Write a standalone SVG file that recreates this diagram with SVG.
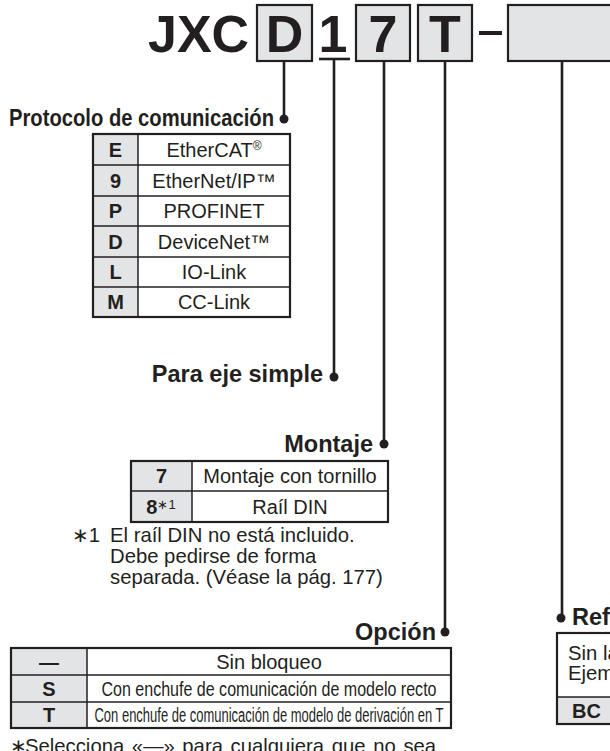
<svg xmlns="http://www.w3.org/2000/svg" width="610" height="751" viewBox="0 0 610 751">
<style>
.bg{fill:#ffffff}
.box{fill:#e3e4e5;stroke:#231f20;stroke-width:2.2}
.frame{fill:none;stroke:#231f20;stroke-width:2.2}
.grid{fill:none;stroke:#231f20;stroke-width:1.5}
.shade{fill:#e3e4e5}
.conn{fill:none;stroke:#231f20;stroke-width:2.6}
.dot{fill:#231f20}
text{font-family:"Liberation Sans",Arial,sans-serif;fill:#231f20}
.big{font-size:52px;font-weight:bold}
.hd{font-size:23.5px;font-weight:bold}
.code{font-size:20px;font-weight:bold;text-anchor:middle}
.item{font-size:20px;text-anchor:middle}
.note{font-size:20.3px}
</style>
<rect class="bg" x="0" y="0" width="610" height="751"/>

<g id="model-code">
  <text class="big" x="148" y="52">JXC</text>
  <rect class="box" x="257" y="5" width="55" height="56"/>
  <text class="big" x="284.5" y="52" text-anchor="middle">D</text>
  <text class="big" x="333" y="52" text-anchor="middle">1</text>
  <line x1="319" y1="59" x2="350" y2="59" stroke="#231f20" stroke-width="2.6"/>
  <rect class="box" x="356" y="5" width="54" height="56"/>
  <text class="big" x="383" y="52" text-anchor="middle">7</text>
  <rect class="box" x="418" y="5" width="54" height="56"/>
  <text class="big" x="445" y="52" text-anchor="middle">T</text>
  <rect x="479" y="31" width="23" height="4" fill="#231f20"/>
  <rect class="box" x="508" y="5" width="110" height="56"/>
</g>

<g id="connectors">
  <line class="conn" x1="284" y1="61" x2="284" y2="119"/>
  <circle class="dot" cx="284" cy="119" r="4.5"/>
  <line class="conn" x1="334" y1="59" x2="334" y2="377"/>
  <circle class="dot" cx="334" cy="377" r="4.5"/>
  <line class="conn" x1="384" y1="61" x2="384" y2="444"/>
  <circle class="dot" cx="384" cy="444" r="4.5"/>
  <line class="conn" x1="445" y1="61" x2="445" y2="632"/>
  <circle class="dot" cx="445" cy="632" r="4.5"/>
  <line class="conn" x1="562" y1="61" x2="562" y2="618"/>
  <circle class="dot" cx="561" cy="618" r="4.5"/>
</g>

<g id="protocolo">
  <text class="hd" x="274" y="126" text-anchor="end" textLength="265" lengthAdjust="spacingAndGlyphs">Protocolo de comunicación</text>
  <rect class="shade" x="93" y="134" width="45" height="183"/>
  <line class="grid" x1="93" y1="165" x2="290" y2="165"/>
  <line class="grid" x1="93" y1="196" x2="290" y2="196"/>
  <line class="grid" x1="93" y1="226" x2="290" y2="226"/>
  <line class="grid" x1="93" y1="257" x2="290" y2="257"/>
  <line class="grid" x1="93" y1="287" x2="290" y2="287"/>
  <line class="grid" x1="138" y1="134" x2="138" y2="317"/>
  <rect class="frame" x="93" y="134" width="197" height="183"/>
  <text class="code" x="115.5" y="157">E</text>
  <text class="item" x="214" y="157">EtherCAT<tspan font-size="12" dy="-7">®</tspan></text>
  <text class="code" x="115.5" y="188">9</text>
  <text class="item" x="214" y="188">EtherNet/IP™</text>
  <text class="code" x="115.5" y="218">P</text>
  <text class="item" x="214" y="218">PROFINET</text>
  <text class="code" x="115.5" y="249">D</text>
  <text class="item" x="214" y="249">DeviceNet™</text>
  <text class="code" x="115.5" y="279">L</text>
  <text class="item" x="214" y="279">IO-Link</text>
  <text class="code" x="115.5" y="309">M</text>
  <text class="item" x="214" y="309">CC-Link</text>
</g>

<g id="eje">
  <text class="hd" x="323" y="382" text-anchor="end">Para eje simple</text>
</g>

<g id="montaje">
  <text class="hd" x="373" y="452" text-anchor="end">Montaje</text>
  <rect class="shade" x="131" y="461" width="61" height="61"/>
  <line class="grid" x1="131" y1="491" x2="388" y2="491"/>
  <line class="grid" x1="192" y1="461" x2="192" y2="522"/>
  <rect class="frame" x="131" y="461" width="257" height="61"/>
  <text class="code" x="161.5" y="483">7</text>
  <text class="item" x="290" y="483">Montaje con tornillo</text>
  <text class="code" x="161" y="514">8<tspan font-size="13" font-weight="normal" dy="-5">∗1</tspan></text>
  <text class="item" x="290" y="514">Raíl DIN</text>
  <text class="note" x="100" y="542" text-anchor="end">∗1</text>
  <text class="note" x="110" y="542">El raíl DIN no está incluido.</text>
  <text class="note" x="110" y="563">Debe pedirse de forma</text>
  <text class="note" x="110" y="584">separada. (Véase la pág. 177)</text>
</g>

<g id="opcion">
  <text class="hd" x="436" y="640" text-anchor="end" font-size="24">Opción</text>
  <rect class="shade" x="11" y="648" width="76" height="80"/>
  <line class="grid" x1="11" y1="675" x2="451" y2="675"/>
  <line class="grid" x1="11" y1="702" x2="451" y2="702"/>
  <line class="grid" x1="87" y1="648" x2="87" y2="728"/>
  <rect class="frame" x="11" y="648" width="440" height="80"/>
  <text class="code" x="49" y="669">—</text>
  <text class="item" x="269" y="669">Sin bloqueo</text>
  <text class="code" x="49" y="696">S</text>
  <text class="item" x="269" y="696" textLength="335" lengthAdjust="spacingAndGlyphs">Con enchufe de comunicación de modelo recto</text>
  <text class="code" x="49" y="722">T</text>
  <text class="item" x="269" y="722" textLength="349" lengthAdjust="spacingAndGlyphs">Con enchufe de comunicación de modelo de derivación en T</text>
  <text class="note" x="10" y="753" font-size="16">∗</text>
  <text class="note" x="25" y="753" font-size="21" word-spacing="2">Selecciona «—» para cualquiera que no sea</text>
</g>

<g id="referencia">
  <text class="hd" x="572" y="625">Ref</text>
  <rect class="shade" x="557" y="697" width="60" height="27"/>
  <line class="grid" x1="557" y1="697" x2="617" y2="697"/>
  <rect class="frame" x="557" y="633" width="60" height="91"/>
  <text class="note" x="568" y="660" font-size="20">Sin la</text>
  <text class="note" x="568" y="680" font-size="20">Ejem</text>
  <text x="572" y="718" font-size="20" font-weight="bold">BC</text>
</g>
</svg>
